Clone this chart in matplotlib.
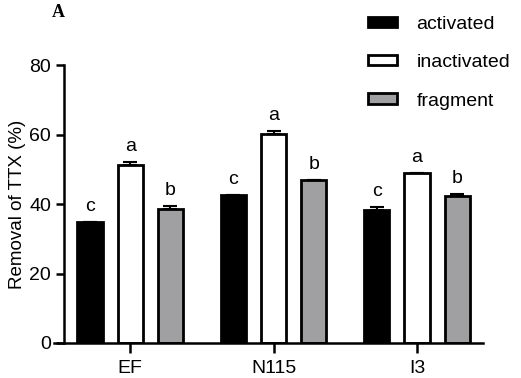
import matplotlib.pyplot as plt
import numpy as np

plt.rcParams['font.family'] = ['Liberation Sans', 'DejaVu Sans']

groups = ['EF', 'N115', 'I3']
series = ['activated', 'inactivated', 'fragment']
activated = [34.8, 42.7, 38.4]
inactivated = [51.2, 60.2, 48.8]
fragment = [38.5, 46.8, 42.2]
err_activated = [0.0, 0.0, 0.8]
err_inactivated = [0.8, 0.7, 0.0]
err_fragment = [0.8, 0.0, 0.7]
letters_activated = ['c', 'c', 'c']
letters_inactivated = ['a', 'a', 'a']
letters_fragment = ['b', 'b', 'b']

values = [activated, inactivated, fragment]
errs = [err_activated, err_inactivated, err_fragment]
letters = [letters_activated, letters_inactivated, letters_fragment]
colors = ['black', 'white', '#a0a0a2']

fig = plt.figure(figsize=(5.21, 3.78), dpi=100)
ax = fig.add_axes([0.104, 0.0926, 0.823, 0.7354])

x = np.arange(len(groups))
offset = 0.28
width = 0.175
for i, name in enumerate(series):
    pos = x + (i - 1) * offset
    ax.bar(pos, values[i], width, color=colors[i], edgecolor='black',
           linewidth=2, label=name, zorder=2)
    e = np.array(errs[i])
    ax.errorbar(pos, values[i], yerr=[np.zeros_like(e), e], fmt='none',
                ecolor='black', elinewidth=1.5, capsize=5, capthick=1.5, zorder=3)
    for p, v, ee, t in zip(pos, values[i], e, letters[i]):
        ax.annotate(t, (p, v + ee), xytext=(0, 5), textcoords='offset points',
                    ha='center', va='bottom', fontsize=14)

ax.set_xlim(-0.53, 2.46)
ax.set_ylim(0, 80)
ax.set_yticks([0, 20, 40, 60, 80])
ax.set_xticks(x)
ax.set_xticklabels(groups)
ax.spines['top'].set_visible(False)
ax.spines['right'].set_visible(False)
ax.spines['left'].set_position(('data', -0.46))
ax.spines['left'].set_linewidth(1.8)
ax.spines['bottom'].set_linewidth(1.8)
ax.tick_params(axis='both', width=1.8, length=6, labelsize=14)
ax.tick_params(axis='x', length=7, pad=5)
ax.set_ylabel('Removal of TTX (%)', fontsize=13.5, labelpad=2)

ax.legend(loc='upper left', bbox_to_anchor=(0.713, 1.205), frameon=False,
          fontsize=14, handlelength=1.5, handleheight=0.45, labelspacing=1.1,
          handletextpad=1.0, borderaxespad=0)

fig.text(0.111, 0.966, 'A', fontsize=13, fontweight='bold',
         family='Liberation Serif', ha='center', va='center')

fig.savefig('out.png', dpi=100)
